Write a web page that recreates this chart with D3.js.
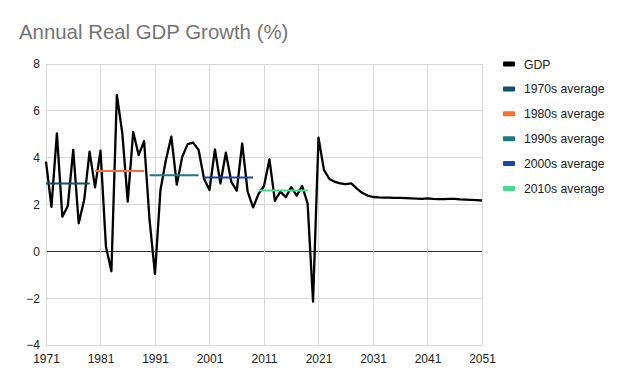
<!DOCTYPE html>
<html>
<head>
<meta charset="utf-8">
<script src="https://cdn.jsdelivr.net/npm/d3@7"></script>
<style>
  body { margin: 0; background: #fff; }
  text { font-family: "Liberation Sans", Arial, sans-serif; }
</style>
</head>
<body>
<svg id="chart" width="624" height="385"></svg>
<script>
// years and GDP growth
const years = d3.range(1971, 2052);
const gdp = [
  3.83, 1.9, 5.04, 1.48, 1.94, 4.33, 1.2, 2.19, 4.26, 2.73,
  4.3, 0.2, -0.85, 6.68, 5.05, 2.12, 5.1, 4.11, 4.71, 1.34,
  -0.97, 2.62, 3.9, 4.9, 2.85, 4.04, 4.58, 4.64, 4.33, 3.1,
  2.62, 4.35, 2.9, 4.21, 2.97, 2.59, 4.61, 2.55, 1.88, 2.45,
  2.79, 3.93, 2.16, 2.55, 2.31, 2.74, 2.38, 2.79, 2.05, -2.15,
  4.85, 3.48, 3.09, 2.97, 2.9, 2.87, 2.9, 2.69, 2.5, 2.38,
  2.32, 2.3, 2.29, 2.29, 2.28, 2.28, 2.27, 2.26, 2.25, 2.24,
  2.26, 2.24, 2.23, 2.23, 2.24, 2.24, 2.22, 2.21, 2.2, 2.19, 2.17
];

const avgNames = ["1970s average", "1980s average", "1990s average", "2000s average", "2010s average"];
const avgStart = [1971, 1980, 1990, 2000, 2010];
const avgEnd = [1979, 1989, 1999, 2009, 2019];
const avgValues = [2.9, 3.43, 3.25, 3.15, 2.6];
const avgColors = ["#134f6b", "#ff6d2e", "#1f7a85", "#1a44a8", "#46dc8e"];

const xTicks = [1971, 1981, 1991, 2001, 2011, 2021, 2031, 2041, 2051];
const yTicks = [-4, -2, 0, 2, 4, 6, 8];

let svg = d3.select("#chart");
let plotLeft = 46, plotRight = 482, plotTop = 64, plotBottom = 345;

let x = d3.scaleLinear().domain([1971, 2051]).range([plotLeft, plotRight]);
let y = d3.scaleLinear().domain([-4, 8]).range([plotBottom, plotTop]);

svg.append("text")
    .attr("x", 19).attr("y", 39)
    .attr("font-size", 20.4)
    .attr("fill", "#757575")
    .text("Annual Real GDP Growth (%)");

// grid
svg.append("g")
    .selectAll("line")
    .data(yTicks)
    .enter().append("line")
    .attr("x1", plotLeft).attr("x2", plotRight)
    .attr("y1", d => y(d)).attr("y2", d => y(d))
    .attr("stroke", d => d === 0 ? "#333" : "#d9d9d9")
    .attr("stroke-width", 1)
    .attr("shape-rendering", "crispEdges");

svg.append("g")
    .selectAll("line")
    .data(xTicks)
    .enter().append("line")
    .attr("x1", d => x(d)).attr("x2", d => x(d))
    .attr("y1", plotTop).attr("y2", plotBottom)
    .attr("stroke", "#d9d9d9")
    .attr("stroke-width", 1)
    .attr("shape-rendering", "crispEdges");

// axes labels, domain lines hidden
let yAxis = svg.append("g")
    .attr("transform", "translate(" + plotLeft + ",0)")
    .call(d3.axisLeft(y).tickValues(yTicks).tickSize(0).tickPadding(6).tickFormat(d3.format("d")));
yAxis.select(".domain").remove();
yAxis.selectAll("text").attr("font-size", 12).attr("fill", "#222")
    .attr("font-family", "Liberation Sans, Arial, sans-serif");

let xAxis = svg.append("g")
    .attr("transform", "translate(0," + plotBottom + ")")
    .call(d3.axisBottom(x).tickValues(xTicks).tickSize(0).tickPadding(9).tickFormat(d3.format("d")));
xAxis.select(".domain").remove();
xAxis.selectAll("text").attr("font-size", 12).attr("fill", "#222")
    .attr("font-family", "Liberation Sans, Arial, sans-serif");

// gdp line
svg.append("path")
    .datum(years.map((yr, i) => [yr, gdp[i]]))
    .attr("fill", "none")
    .attr("stroke", "#000")
    .attr("stroke-width", 2.3)
    .attr("stroke-linejoin", "round")
    .attr("d", d3.line().x(d => x(d[0])).y(d => y(d[1])));

// decade averages drawn over the gdp line
avgNames.forEach(function(name, i) {
    let pts = d3.range(avgStart[i], avgEnd[i] + 1).map(yr => [yr, avgValues[i]]);
    svg.append("path")
        .datum(pts)
        .attr("fill", "none")
        .attr("stroke", avgColors[i])
        .attr("stroke-width", 2)
        .attr("d", d3.line().x(d => x(d[0])).y(d => y(d[1])));
});

// legend
let legNames = ["GDP"].concat(avgNames);
let legColors = ["#000"].concat(avgColors);
let leg = svg.append("g").selectAll("g")
    .data(legNames)
    .enter().append("g")
    .attr("transform", (d, i) => "translate(503," + (64 + i * 24.9) + ")");
leg.append("rect")
    .attr("x", 0).attr("y", -2.5)
    .attr("width", 12).attr("height", 5)
    .attr("rx", 1)
    .attr("fill", (d, i) => legColors[i]);
leg.append("text")
    .attr("x", 21).attr("y", 4.5)
    .attr("font-size", 12.2)
    .attr("fill", "#222")
    .text(d => d);
</script>
</body>
</html>
